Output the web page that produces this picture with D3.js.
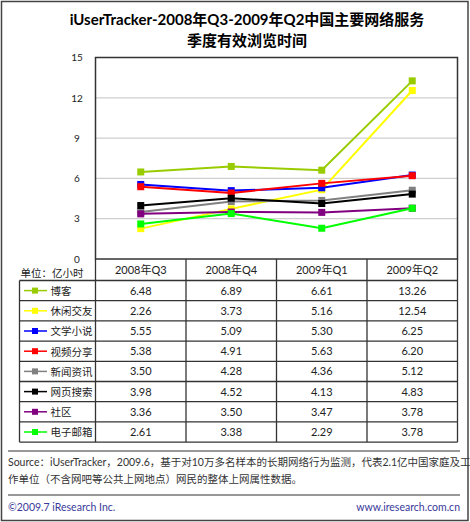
<html>
<head>
<meta charset="utf-8">
<script src="https://d3js.org/d3.v7.min.js"></script>
<style>
body { margin: 0; background: #fff; }
text { font-family: Lato, "Noto Sans CJK SC", sans-serif; }
</style>
</head>
<body>
<script>

// chart data
var quarters = ["2008年Q3", "2008年Q4", "2009年Q1", "2009年Q2"];
var services = ["博客", "休闲交友", "文学小说", "视频分享", "新闻资讯", "网页搜索", "社区", "电子邮箱"];
var colors = ["#99cc00", "#ffff00", "#0000ff", "#ff0000", "#808080", "#000000", "#800080", "#00ff00"];
var hours = [
  [6.48, 6.89, 6.61, 13.26],
  [2.26, 3.73, 5.16, 12.54],
  [5.55, 5.09, 5.30, 6.25],
  [5.38, 4.91, 5.63, 6.20],
  [3.50, 4.28, 4.36, 5.12],
  [3.98, 4.52, 4.13, 4.83],
  [3.36, 3.50, 3.47, 3.78],
  [2.61, 3.38, 2.29, 3.78]
];
var yTicks = [0, 3, 6, 9, 12, 15];

var W = 470, H = 522;
var plot = {left: 95.5, right: 457.5, top: 57.5, bottom: 259};
var rowH = 20.2, headH = 21.5, legendLeft = 19.5;

var svg = d3.select("body").append("svg")
    .attr("width", W)
    .attr("height", H);

// outer frame
svg.append("rect")
    .attr("x", 1.5).attr("y", 1.5)
    .attr("width", W - 3.5).attr("height", H - 3)
    .attr("fill", "#fff").attr("stroke", "#444").attr("stroke-width", 1.5);

// title
svg.append("text")
    .attr("x", 247).attr("y", 25)
    .attr("text-anchor", "middle")
    .style("font-size", "15px").style("font-weight", "bold")
    .text("iUserTracker-2008年Q3-2009年Q2中国主要网络服务");
svg.append("text")
    .attr("x", 247).attr("y", 46)
    .attr("text-anchor", "middle")
    .style("font-size", "15px").style("font-weight", "bold")
    .text("季度有效浏览时间");

var x = d3.scaleBand()
    .domain(quarters)
    .range([plot.left, plot.right]);
var y = d3.scaleLinear()
    .domain([0, 15])
    .range([plot.bottom, plot.top]);

// grid lines
svg.append("g").selectAll("line")
    .data(yTicks.filter(function(d) { return d > 0 && d < 15; }))
  .enter().append("line")
    .attr("x1", plot.left).attr("x2", plot.right)
    .attr("y1", function(d) { return y(d); })
    .attr("y2", function(d) { return y(d); })
    .attr("stroke", "#cfcfcf").attr("stroke-width", 1.2);

// y axis labels
var yAxis = d3.axisLeft(y).tickValues(yTicks).tickSize(0).tickPadding(0);
var yg = svg.append("g")
    .attr("transform", "translate(" + 82 + ",0)")
    .call(yAxis);
yg.select(".domain").remove();
yg.selectAll("text")
    .attr("x", -5)
    .attr("text-anchor", "middle")
    .style("font-family", "Lato, sans-serif")
    .style("font-size", "10px").attr("fill", "#222");

// plot border
svg.append("rect")
    .attr("x", plot.left).attr("y", plot.top)
    .attr("width", plot.right - plot.left).attr("height", plot.bottom - plot.top)
    .attr("fill", "none").attr("stroke", "#333").attr("stroke-width", 1.5);

// lines and markers
var line = d3.line()
    .x(function(d, i) { return x(quarters[i]) + x.bandwidth() / 2; })
    .y(function(d) { return y(d); });

var series = svg.append("g").selectAll("g")
    .data(hours)
  .enter().append("g");

series.append("path")
    .attr("d", line)
    .attr("fill", "none")
    .attr("stroke", function(d, i) { return colors[i]; })
    .attr("stroke-width", 2);

series.each(function(d, i) {
  d3.select(this).selectAll("rect")
      .data(d)
    .enter().append("rect")
      .attr("x", function(v, j) { return x(quarters[j]) + x.bandwidth() / 2 - 3.5; })
      .attr("y", function(v) { return y(v) - 3.5; })
      .attr("width", 7).attr("height", 7)
      .attr("fill", colors[i]);
});

// table
var tableTop = plot.bottom;
var tableBottom = tableTop + headH + rowH * services.length;
var tg = svg.append("g");

tg.append("text")
    .attr("x", 52).attr("y", 277)
    .attr("text-anchor", "middle")
    .style("font-size", "10.5px").attr("fill", "#222")
    .text("单位：亿小时");

// header cells
tg.selectAll(".head")
    .data(quarters)
  .enter().append("text")
    .attr("class", "head")
    .attr("x", function(d) { return x(d) + x.bandwidth() / 2; })
    .attr("y", tableTop + headH / 2 + 4)
    .attr("text-anchor", "middle")
    .style("font-size", "11px").attr("fill", "#222")
    .text(function(d) { return d; });

// rows
var rows = tg.selectAll(".row")
    .data(services)
  .enter().append("g")
    .attr("class", "row")
    .attr("transform", function(d, i) { return "translate(0," + (tableTop + headH + rowH * i) + ")"; });

rows.append("line")
    .attr("x1", 24).attr("x2", 47)
    .attr("y1", rowH / 2).attr("y2", rowH / 2)
    .attr("stroke", function(d, i) { return colors[i]; })
    .attr("stroke-width", 1.5);
rows.append("rect")
    .attr("x", 32).attr("y", rowH / 2 - 3)
    .attr("width", 6).attr("height", 6)
    .attr("fill", function(d, i) { return colors[i]; });
rows.append("text")
    .attr("x", 50.5).attr("y", rowH / 2 + 4.5)
    .style("font-size", "10.5px").attr("fill", "#222")
    .text(function(d) { return d; });

rows.each(function(s, i) {
  d3.select(this).selectAll(".val")
      .data(hours[i])
    .enter().append("text")
      .attr("class", "val")
      .attr("x", function(v, j) { return x(quarters[j]) + x.bandwidth() / 2; })
      .attr("y", rowH / 2 + 4)
      .attr("text-anchor", "middle")
      .style("font-size", "11px").attr("fill", "#222")
      .text(function(v) { return v.toFixed(2); });
});

// table grid
var hLines = [tableTop + headH];
services.forEach(function(d, i) { hLines.push(tableTop + headH + rowH * (i + 1)); });
tg.selectAll(".hl")
    .data(hLines)
  .enter().append("line")
    .attr("x1", legendLeft)
    .attr("x2", plot.right)
    .attr("y1", function(d) { return d; })
    .attr("y2", function(d) { return d; })
    .attr("stroke", "#333").attr("stroke-width", 1.3);

var vLines = [plot.left].concat(quarters.map(function(q) { return x(q) + x.bandwidth(); }));
tg.selectAll(".vl")
    .data(vLines)
  .enter().append("line")
    .attr("x1", function(d) { return d; }).attr("x2", function(d) { return d; })
    .attr("y1", tableTop).attr("y2", tableBottom)
    .attr("stroke", "#333").attr("stroke-width", 1.3);
tg.append("line")
    .attr("x1", legendLeft).attr("x2", legendLeft)
    .attr("y1", tableTop + headH).attr("y2", tableBottom)
    .attr("stroke", "#333").attr("stroke-width", 1.3);

// source notes
svg.append("line")
    .attr("x1", 8).attr("x2", 460).attr("y1", 451).attr("y2", 451)
    .attr("stroke", "#333").attr("stroke-width", 1.2);
svg.append("text")
    .attr("x", 8).attr("y", 466)
    .style("font-size", "10.5px").attr("fill", "#333")
    .text("Source：iUserTracker，2009.6，基于对10万多名样本的长期网络行为监测，代表2.1亿中国家庭及工");
svg.append("text")
    .attr("x", 8).attr("y", 483)
    .style("font-size", "10.5px").attr("fill", "#333")
    .text("作单位（不含网吧等公共上网地点）网民的整体上网属性数据。");
svg.append("line")
    .attr("x1", 8).attr("x2", 460).attr("y1", 495).attr("y2", 495)
    .attr("stroke", "#333").attr("stroke-width", 1.2);
svg.append("text")
    .attr("x", 8).attr("y", 510.5)
    .style("font-size", "10.5px").attr("fill", "#3a3a9a")
    .text("©2009.7 iResearch Inc.");
svg.append("text")
    .attr("x", 460).attr("y", 510.5)
    .attr("text-anchor", "end")
    .style("font-size", "10.5px").attr("fill", "#3a3a9a")
    .text("www.iresearch.com.cn");

</script>
</body>
</html>
